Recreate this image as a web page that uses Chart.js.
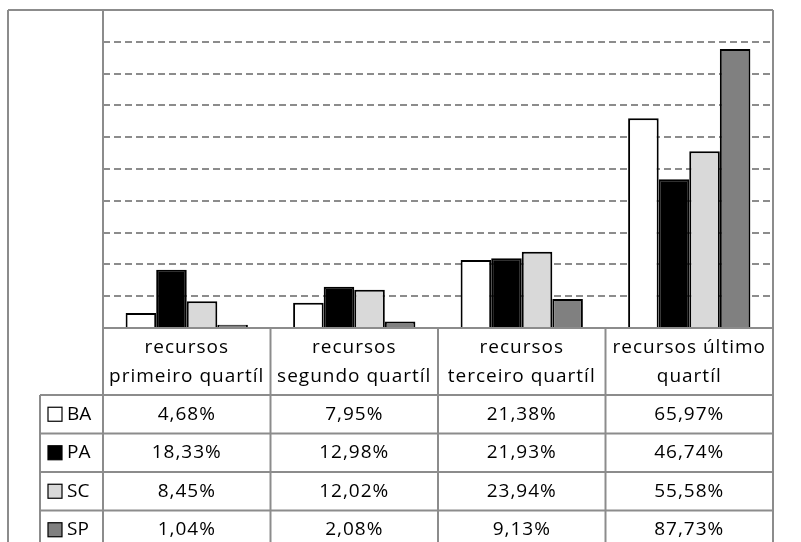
<!DOCTYPE html>
<html>
<head>
<meta charset="utf-8">
<script src="https://cdn.jsdelivr.net/npm/chart.js@4"></script>
<style>
  html, body { margin: 0; padding: 0; background: #fff; }
  #wrap { width: 801px; height: 542px; }
</style>
</head>
<body>
<div id="wrap"><canvas id="grafico" width="801" height="542"></canvas></div>
<script>
const categorias = [
    ['recursos', 'primeiro quartíl'],
    ['recursos', 'segundo quartíl'],
    ['recursos', 'terceiro quartíl'],
    ['recursos último', 'quartíl']
];
const estados = ['BA', 'PA', 'SC', 'SP'];
const valoresBA = [4.68, 7.95, 21.38, 65.97];
const valoresPA = [18.33, 12.98, 21.93, 46.74];
const valoresSC = [8.45, 12.02, 23.94, 55.58];
const valoresSP = [1.04, 2.08, 9.13, 87.73];
const cores = ['#ffffff', '#000000', '#d9d9d9', '#808080'];

const series = [valoresBA, valoresPA, valoresSC, valoresSP];
const corLinha = '#8c8c8c';
const fonte = '19px "Open Sans"';
const formatar = v => v.toFixed(2).replace('.', ',') + '%';

// desenha moldura e tabela de dados abaixo do grafico
const tabelaPlugin = {
    id: 'tabela',
    afterDraw(chart) {
        const { ctx, chartArea, scales } = chart;
        const x = scales.x;
        const meio = (x.getPixelForValue(1) - x.getPixelForValue(0)) / 2;
        const bordas = [];
        for (let i = 0; i < categorias.length; i++) bordas.push(x.getPixelForValue(i) - meio);
        bordas.push(x.getPixelForValue(categorias.length - 1) + meio);

        const topo = chartArea.bottom;
        const cab = topo + 67;
        const alturaLinha = 38.5;
        const esq = 8, legEsq = 40;

        ctx.save();
        ctx.strokeStyle = corLinha;
        ctx.lineWidth = 2;
        ctx.setLineDash([]);

        const linha = (x1, y1, x2, y2) => {
            ctx.beginPath();
            ctx.moveTo(x1, y1);
            ctx.lineTo(x2, y2);
            ctx.stroke();
        };

        // moldura externa
        linha(esq, chartArea.top, chartArea.right, chartArea.top);
        linha(esq, chartArea.top, esq, 542);
        linha(chartArea.right, chartArea.top, chartArea.right, 542);
        linha(chartArea.left, chartArea.top, chartArea.left, 542);
        linha(chartArea.left, topo, chartArea.right, topo);

        // colunas
        bordas.forEach(b => linha(b, topo, b, 542));
        linha(legEsq, cab, legEsq, 542);
        for (let r = 0; r < estados.length; r++) {
            const y = cab + r * alturaLinha;
            linha(legEsq, y, chartArea.right, y);
        }

        ctx.fillStyle = '#000';
        ctx.font = fonte;
        ctx.letterSpacing = '1px';
        ctx.textAlign = 'center';
        ctx.textBaseline = 'middle';

        categorias.forEach((c, i) => {
            const cx = x.getPixelForValue(i);
            ctx.fillText(c[0], cx, topo + 20);
            ctx.fillText(c[1], cx, topo + 49);
        });

        estados.forEach((e, r) => {
            const cy = cab + r * alturaLinha + alturaLinha / 2;
            ctx.fillStyle = cores[r];
            ctx.fillRect(48, cy - 7, 14, 14);
            ctx.strokeStyle = '#000';
            ctx.lineWidth = 1.2;
            ctx.strokeRect(48, cy - 7, 14, 14);
            ctx.fillStyle = '#000';
            ctx.textAlign = 'left';
            ctx.letterSpacing = '0px';
            ctx.fillText(e, 67, cy);
            ctx.letterSpacing = '1px';
            ctx.textAlign = 'center';
            series[r].forEach((v, i) => {
                ctx.fillText(formatar(v), x.getPixelForValue(i), cy);
            });
        });
        ctx.restore();
    }
};

new Chart(document.getElementById('grafico'), {
    type: 'bar',
    data: {
        labels: categorias,
        datasets: estados.map((e, i) => ({
            label: e,
            data: series[i],
            backgroundColor: cores[i],
            borderColor: '#000000',
            borderWidth: 2,
            borderSkipped: 'bottom',
            categoryPercentage: 0.73,
            barPercentage: 1.0
        }))
    },
    options: {
        responsive: false,
        animation: false,
        layout: { padding: { left: 103, right: 28, top: 10, bottom: 214 } },
        plugins: {
            legend: { display: false },
            tooltip: { enabled: false }
        },
        scales: {
            x: {
                display: false
            },
            y: {
                min: 0,
                max: 100,
                ticks: { display: false, stepSize: 10 },
                grid: {
                    drawTicks: false,
                    lineWidth: 2,
                    color: c => (c.tick && (c.tick.value === 0 || c.tick.value === 100)) ? 'rgba(0,0,0,0)' : '#8c8c8c'
                },
                border: { display: false, dash: [7, 4] }
            }
        }
    },
    plugins: [tabelaPlugin]
});
</script>
</body>
</html>
